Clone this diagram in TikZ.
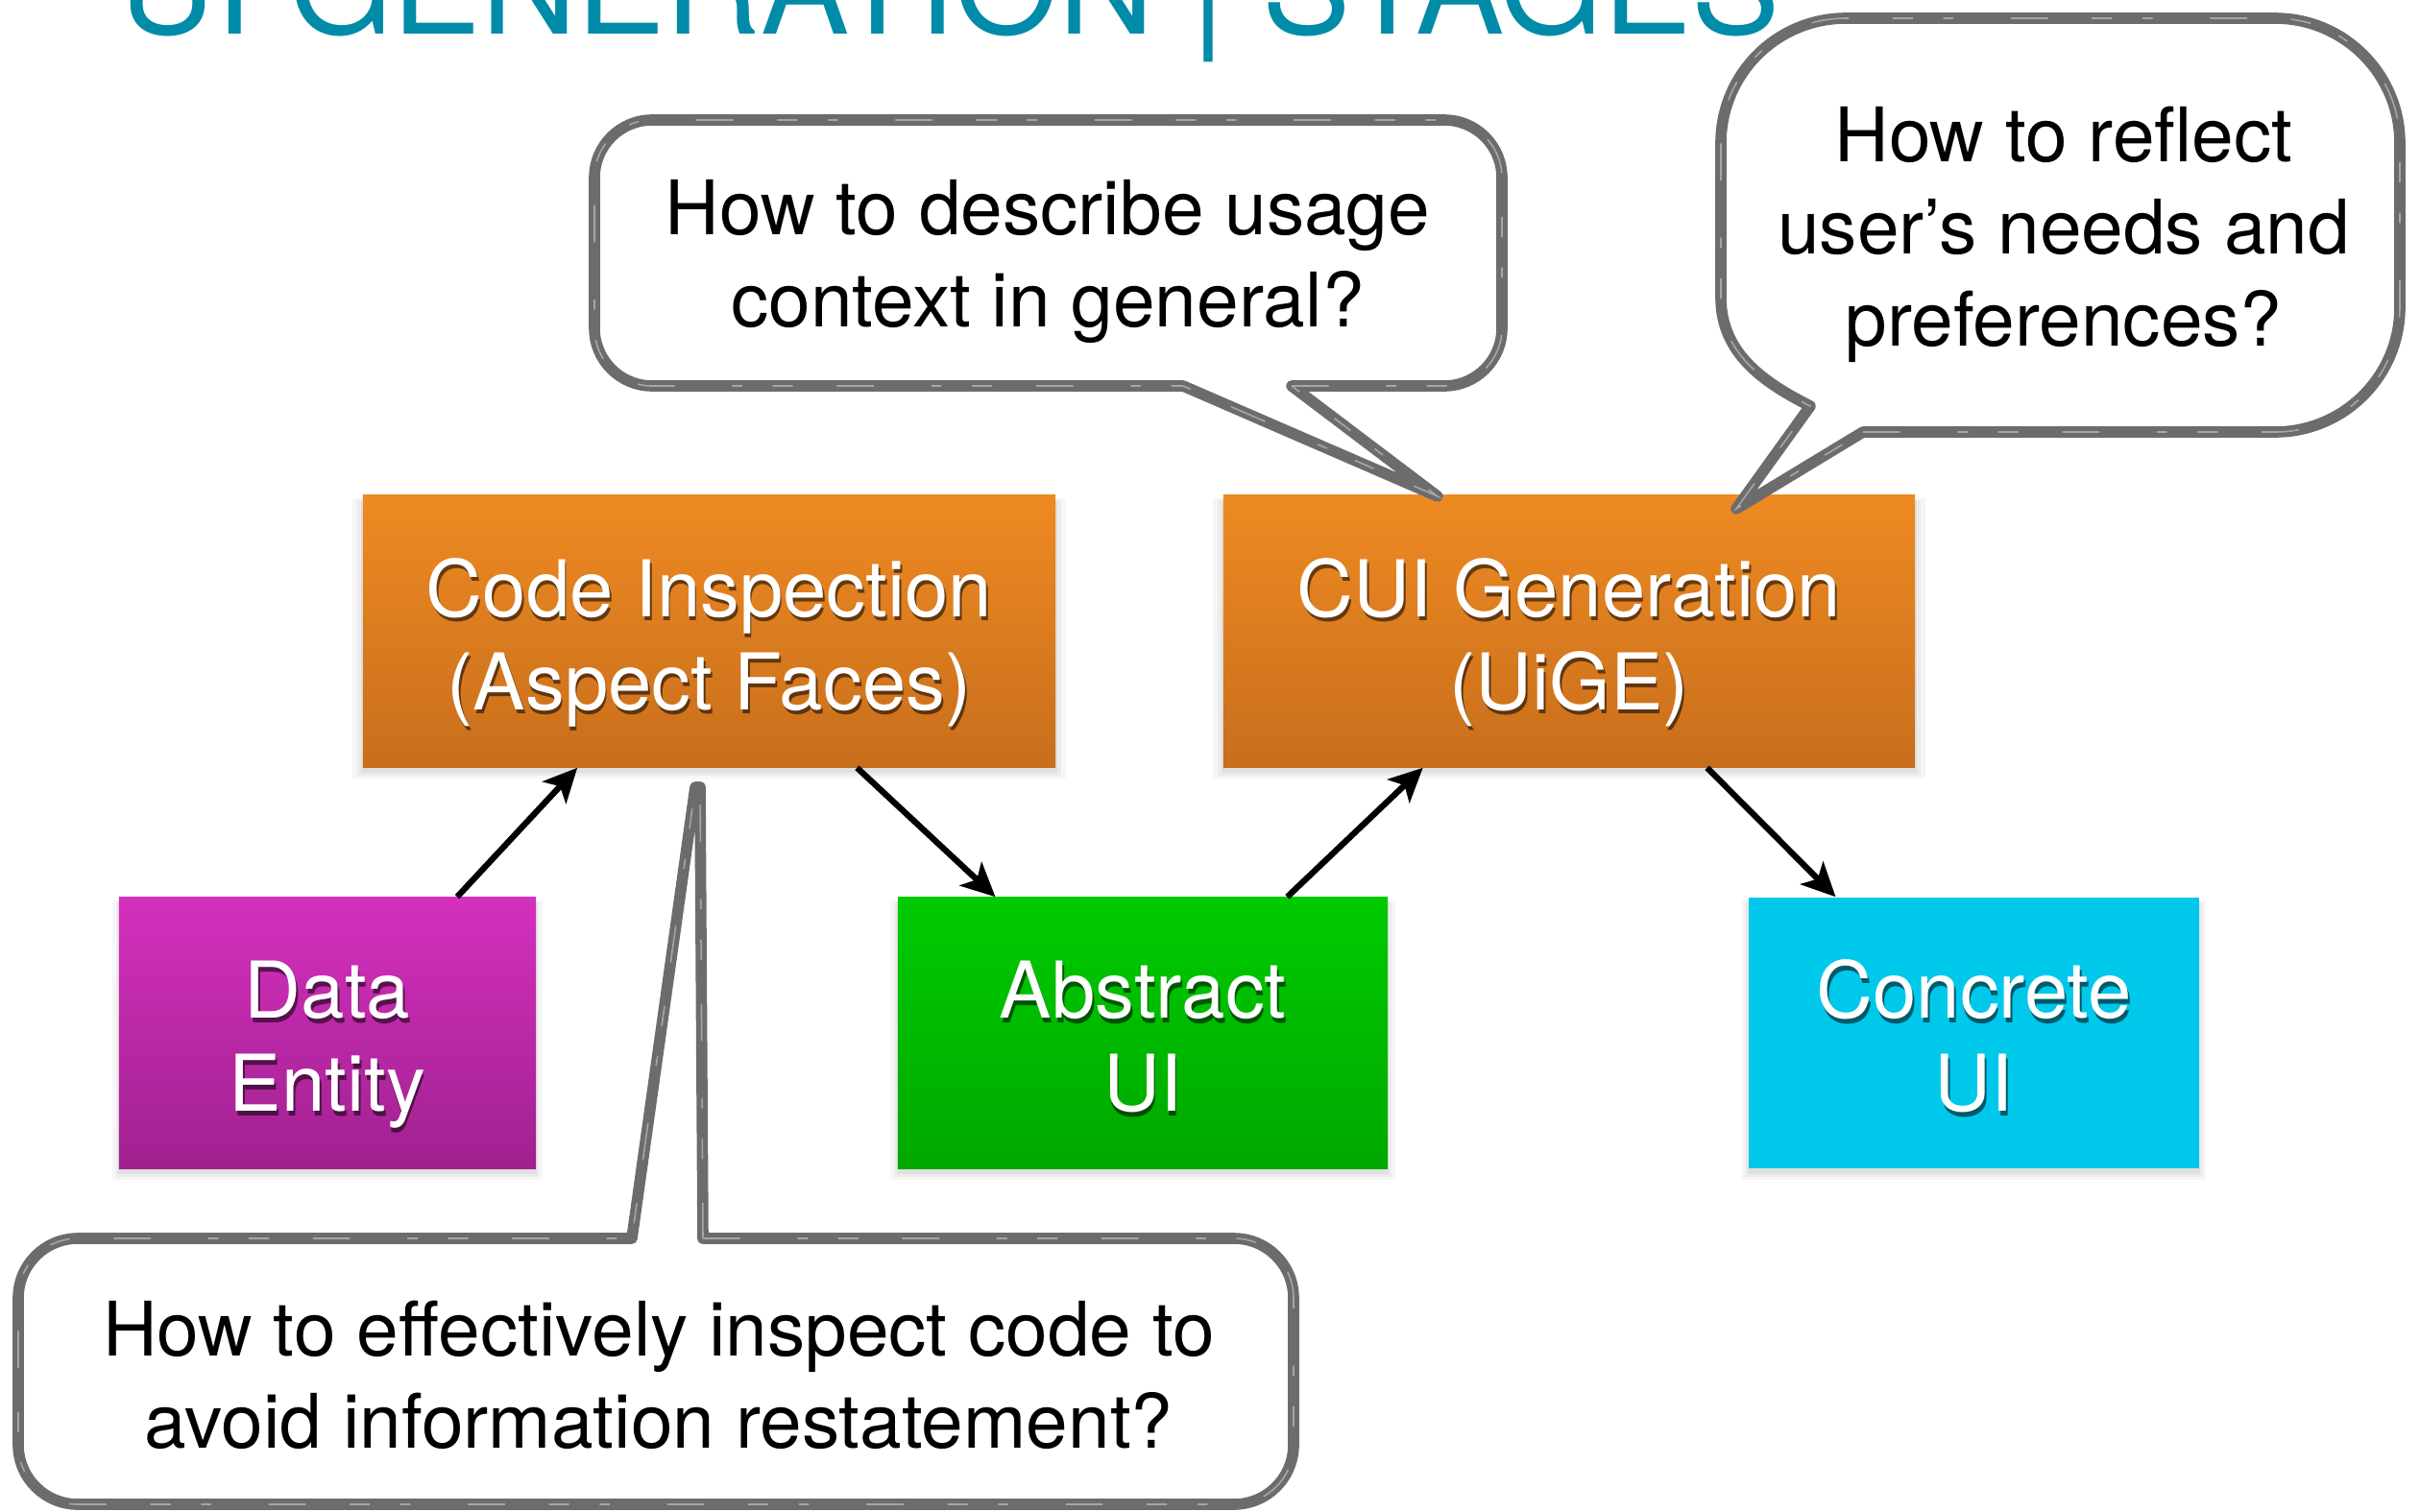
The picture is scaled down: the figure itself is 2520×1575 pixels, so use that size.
\documentclass[tikz,border=0pt]{standalone}
\usepackage{fontspec}
\setmainfont{TeX Gyre Heros}
\usetikzlibrary{shadows,arrows.meta,calc}
\definecolor{ortop}{RGB}{238,138,34}
\definecolor{orbot}{RGB}{200,110,28}
\definecolor{magtop}{RGB}{212,48,190}
\definecolor{magbot}{RGB}{160,33,143}
\definecolor{grtop}{RGB}{0,202,0}
\definecolor{grbot}{RGB}{0,168,0}
\definecolor{cyanbox}{RGB}{0,200,235}
\definecolor{brush}{RGB}{108,108,108}
\definecolor{titleteal}{RGB}{0,139,168}
\newcommand\boxfont{\fontsize{23.2}{27.5}\selectfont}
\newcommand\qfont{\fontsize{22.3}{27.3}\selectfont}
\newcommand\bubblepathA{(1345,402) [rounded corners=0.6cm] -- (1564,402) -- (1564,125) -- (619,125) -- (619,402) [sharp corners] -- (1232,402) -- (1497,517) -- cycle}
\newcommand\bubblepathB{(1940,450) [rounded corners=1.3cm] -- (2499,450) -- (2499,19) -- (1792,19) [sharp corners] -- (1792,310) .. controls (1792,370) and (1840,400) .. (1885,423) -- (1808,530) -- cycle}
\newcommand\bubblepathC{(732,1290) [rounded corners=0.62cm] -- (1347,1290) -- (1347,1567) -- (19,1567) -- (19,1290) [sharp corners] -- (658,1290) -- (724,820) -- (729,820) -- cycle}
\begin{document}
\begin{tikzpicture}[x=0.01cm,y=-0.01cm,
  softshadow/.style={
    drop shadow={opacity=0.07, shadow xshift=0pt, shadow yshift=-2pt, shadow scale=1.03},
    drop shadow={opacity=0.08, shadow xshift=0pt, shadow yshift=-2pt, shadow scale=1.015},
    drop shadow={opacity=0.10, shadow xshift=0pt, shadow yshift=-1.5pt, shadow scale=1.004}},
  stagebox/.style 2 args={draw=none, text=white, align=center, font=\boxfont,
    inner sep=0pt, text height=46.4pt, text depth=0pt, minimum width=#2, softshadow,
    path picture={\node[text=black, opacity=0.55, align=center, font=\boxfont, inner sep=0pt,
      text height=46.4pt, text depth=0pt]
      at ([xshift=0.5pt,yshift=-1.3pt]path picture bounding box.center) {#1};}},
  arr/.style={draw=black, line width=1.8pt, -{Stealth[length=10pt,width=9.5pt,inset=2.5pt]}},
  bubble/.style={draw=brush, fill=white, line width=3.3pt, line join=round},
  streak/.style={draw=white, line width=0.45pt, opacity=0.4, dash pattern=on 11pt off 17pt on 3pt off 9pt on 6pt off 13pt},
  qtext/.style={align=center, font=\qfont, text=black, inner sep=0pt}
]
\path[use as bounding box] (0,0) rectangle (2520,1575);
\clip (0,0) rectangle (2520,1575);
\fill[white] (0,0) rectangle (2520,1575);

% title (cut off at the top)
\node[anchor=base west, inner sep=0pt, text=titleteal, font=\fontsize{39.3}{41}\selectfont] (title) at (124,35) {UI GENERATION | STAGES};

% stage boxes
\node[stagebox={Code Inspection\\(Aspect Faces)}{7.21cm}, minimum height=2.83cm, top color=ortop, bottom color=orbot] (ci) at (738.5,657.5) {Code Inspection\\(Aspect Faces)};
\node[stagebox={CUI Generation\\(UiGE)}{7.20cm}, minimum height=2.83cm, top color=ortop, bottom color=orbot] (cui) at (1634,657.5) {CUI Generation\\(UiGE)};
\node[stagebox={Data\\Entity}{4.34cm}, minimum height=2.82cm, top color=magtop, bottom color=magbot] (de) at (341,1076) {Data\\Entity};
\node[stagebox={Abstract\\UI}{5.10cm}, minimum height=2.82cm, top color=grtop, bottom color=grbot] (au) at (1190,1076) {Abstract\\UI};
\node[stagebox={Concrete\\UI}{4.69cm}, minimum height=2.82cm, fill=cyanbox] (cu) at (2055.5,1076) {Concrete\\UI};

% connectors
\draw[arr] ($(de.north west)!0.81!(de.north east)$) -- ($(ci.south west)!0.31!(ci.south east)$);
\draw[arr] ($(ci.south west)!0.713!(ci.south east)$) -- ($(au.north west)!0.2!(au.north east)$);
\draw[arr] ($(au.north west)!0.794!(au.north east)$) -- ($(cui.south west)!0.289!(cui.south east)$);
\draw[arr] ($(cui.south west)!0.699!(cui.south east)$) -- ($(cu.north west)!0.194!(cu.north east)$);

% callout: usage context
\path[bubble] \bubblepathA;
\path[streak] \bubblepathA;
\node[qtext] (q1) at (1091,272) {How to describe usage\\context in general?};

% callout: user needs
\path[bubble] \bubblepathB;
\path[streak] \bubblepathB;
\node[qtext] (q2) at (2149,244) {How to reflect\\user’s needs and\\preferences?};

% callout: code inspection
\path[bubble] \bubblepathC;
\path[streak] \bubblepathC;
\node[qtext] (q3) at (686,1432) {How to effectively inspect code to\\avoid information restatement?};
\end{tikzpicture}
\end{document}
